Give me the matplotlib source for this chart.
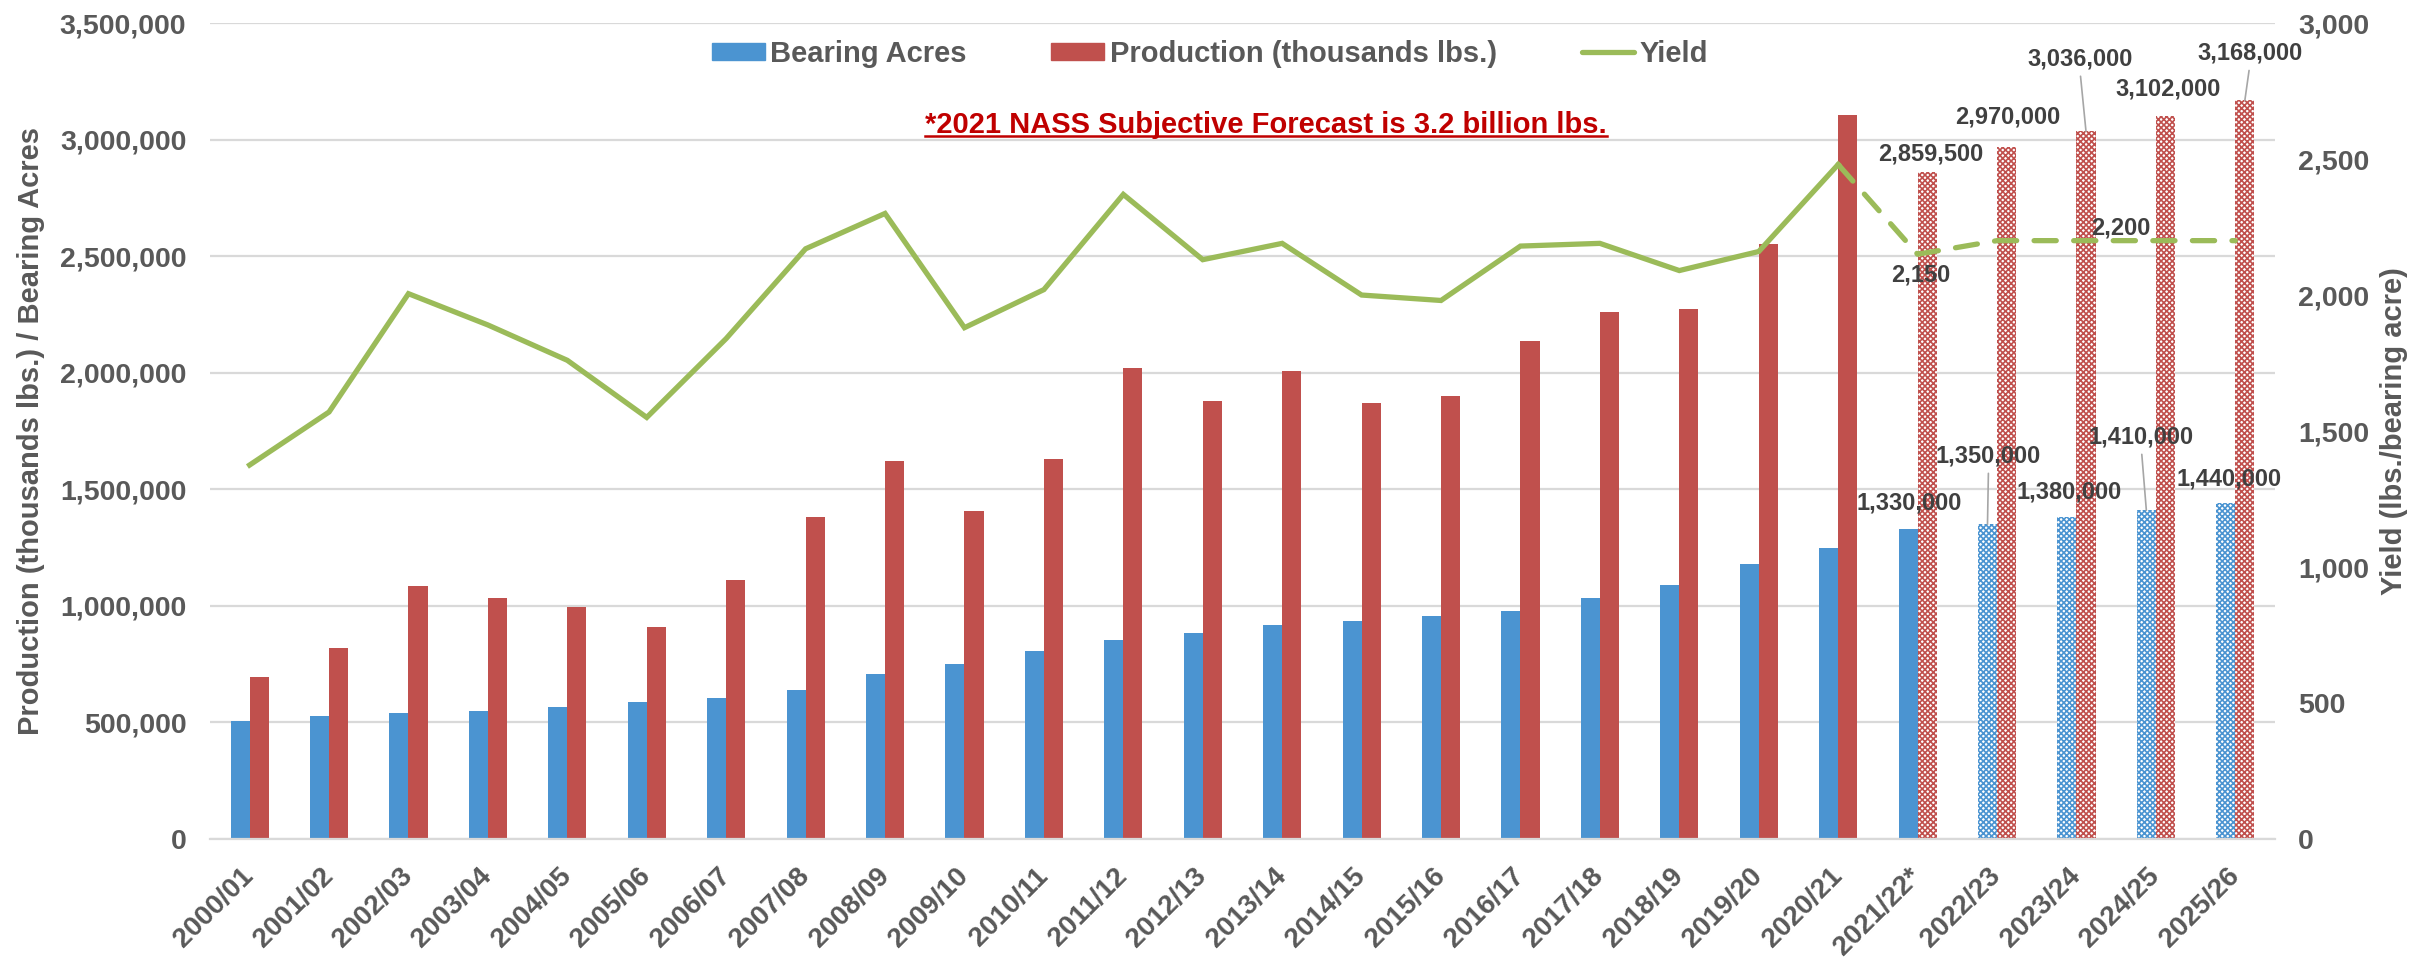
import numpy as np
import matplotlib
matplotlib.use('Agg')
import matplotlib.pyplot as plt
from matplotlib.patches import Patch
from matplotlib.lines import Line2D
from matplotlib.ticker import FuncFormatter

#------ Datos -------
years = ['2000/01', '2001/02', '2002/03', '2003/04', '2004/05', '2005/06', '2006/07',
         '2007/08', '2008/09', '2009/10', '2010/11', '2011/12', '2012/13', '2013/14',
         '2014/15', '2015/16', '2016/17', '2017/18', '2018/19', '2019/20', '2020/21',
         '2021/22*', '2022/23', '2023/24', '2024/25', '2025/26']

bearing_acres = [507000, 529000, 541000, 549000, 567000, 589000, 607000, 639000, 709000,
                 749000, 807000, 855000, 885000, 920000, 935000, 958000, 980000, 1035000,
                 1090000, 1180000, 1250000,
                 1330000, 1350000, 1380000, 1410000, 1440000]

production = [696000, 821000, 1085000, 1033000, 996000, 910000, 1113000, 1383000, 1620000,
              1405000, 1630000, 2020000, 1880000, 2008000, 1870000, 1900000, 2135000,
              2260000, 2272000, 2553000, 3105000,
              2859500, 2970000, 3036000, 3102000, 3168000]

yield_lbs = [1375, 1570, 2005, 1890, 1760, 1550, 1840, 2170, 2300, 1880, 2020, 2370, 2130,
             2190, 2000, 1980, 2180, 2190, 2090, 2160, 2480,
             2150, 2200, 2200, 2200, 2200]

n_acres_real = 22      # hasta 2021/22 la superficie es real
n_prod_real = 21       # hasta 2020/21 la produccion es real
n_yield_real = 21

# etiquetas de datos (indice) y su desplazamiento en pixeles
prod_labels = [21, 22, 23, 24, 25]
prod_offs = [(4, 18), (1, 30), (-6, 72), (3, 27), (5, 47)]
prod_leader = [False, False, True, False, True]
acres_labels = [21, 22, 23, 24, 25]
acres_offs = [(1, 26), (1, 68), (2, 25), (-5, 73), (3, 24)]
acres_leader = [False, True, False, True, False]
yield_labels = [21, 23]
yield_offs = [(3, -21), (44, 13)]

#------ Estilo -------
plt.rcParams['font.family'] = ['Liberation Sans', 'DejaVu Sans']
plt.rcParams['hatch.linewidth'] = 1.2
c_blue = '#4B94D1'
c_red = '#C0504D'
c_green = '#9BBB59'
c_txt = '#595959'
c_lab = '#404040'
c_grid = '#D9D9D9'

fig = plt.figure(figsize=(24.35, 9.6), dpi=100)
ax = fig.add_axes([0.0862, 0.126, 0.8481, 0.850])
ax2 = ax.twinx()

x = np.arange(len(years))
w = 0.24
acres = np.array(bearing_acres)
prod = np.array(production)
yld = np.array(yield_lbs)

ax.bar(x[:n_acres_real] - w / 2, acres[:n_acres_real], w, color=c_blue, zorder=2)
ax.bar(x[n_acres_real:] - w / 2, acres[n_acres_real:], w, color='white',
       edgecolor=c_blue, hatch='xxxxxx', linewidth=0, zorder=2)
ax.bar(x[:n_prod_real] + w / 2, prod[:n_prod_real], w, color=c_red, zorder=2)
ax.bar(x[n_prod_real:] + w / 2, prod[n_prod_real:], w, color='white',
       edgecolor=c_red, hatch='xxxxxx', linewidth=0, zorder=2)

ax2.plot(x[:n_yield_real], yld[:n_yield_real], color=c_green, lw=3.8,
         solid_joinstyle='miter', zorder=3)
ax2.plot(x[n_yield_real - 1:], yld[n_yield_real - 1:], color=c_green, lw=3.8,
         ls=(0, (4.2, 3.3)), dash_capstyle='round', zorder=3)

#------ Ejes -------
ax.set_xlim(-0.5, len(years) - 0.5)
ax.set_ylim(0, 3500000)
ax.set_yticks(np.arange(0, 3500001, 500000))
ax2.set_ylim(0, 3000)
ax2.set_yticks(np.arange(0, 3001, 500))
fmt = FuncFormatter(lambda v, p: f'{v:,.0f}')
ax.yaxis.set_major_formatter(fmt)
ax2.yaxis.set_major_formatter(fmt)

ax.yaxis.grid(True, color=c_grid, lw=1.6)
ax.set_axisbelow(True)
for a in (ax, ax2):
    for s in ['top', 'left', 'right', 'bottom']:
        a.spines[s].set_visible(False)
ax.spines['bottom'].set_visible(True)
ax.spines['bottom'].set_color(c_grid)
ax.spines['bottom'].set_linewidth(1.6)

ax.tick_params(axis='y', length=0, pad=17, labelsize=20.5, labelcolor=c_txt)
ax2.tick_params(axis='y', length=0, pad=16.5, labelsize=20.5, labelcolor=c_txt)
ax.tick_params(axis='x', length=0, pad=24, labelsize=20, labelcolor=c_txt)
for lb in ax.get_yticklabels() + ax2.get_yticklabels():
    lb.set_fontweight('bold')

ax.set_xticks(x)
ax.set_xticklabels(years, rotation=45, ha='right', va='center',
                   rotation_mode='anchor', fontweight='bold')

ax.set_ylabel('Production (thousands lbs.) / Bearing Acres', fontsize=21,
              fontweight='bold', color=c_txt)
ax.yaxis.set_label_coords(-0.080, 0.5)
ax2.set_ylabel('Yield (lbs./bearing acre)', fontsize=21, fontweight='bold',
               color=c_txt, rotation=90)
ax2.yaxis.set_label_coords(1.051, 0.5)

#------ Etiquetas de datos -------
def etiqueta(axe, xx, yy, txt, off, leader):
    kw = dict(xy=(xx, yy), xytext=(off[0] * 0.72, off[1] * 0.72),
              textcoords='offset points', ha='center', va='center',
              fontsize=17, fontweight='bold', color=c_lab, zorder=5)
    if leader:
        kw['arrowprops'] = dict(arrowstyle='-', color='#A6A6A6', lw=1.2,
                                shrinkA=2, shrinkB=0, relpos=(0.5, 0.0))
    axe.annotate(txt, **kw)

for i, o, l in zip(prod_labels, prod_offs, prod_leader):
    etiqueta(ax, x[i] + w / 2, prod[i], f'{prod[i]:,}', o, l)
for i, o, l in zip(acres_labels, acres_offs, acres_leader):
    etiqueta(ax, x[i] - w / 2, acres[i], f'{acres[i]:,}', o, l)
for i, o in zip(yield_labels, yield_offs):
    etiqueta(ax2, x[i], yld[i], f'{yld[i]:,}', o, False)

#------ Leyenda -------
handles = [Patch(color=c_blue), Patch(color=c_red),
           Line2D([0], [0], color=c_green, lw=3.8, solid_capstyle='round')]
leg = ax.legend(handles, ['Bearing Acres', 'Production (thousands lbs.)', 'Yield'],
                loc='center', bbox_to_anchor=(0.497, 0.944), bbox_transform=fig.transFigure,
                ncol=3, frameon=False, labelcolor=c_txt,
                prop={'size': 21, 'weight': 'bold'},
                handlelength=1.8, handleheight=0.5, handletextpad=0.2, columnspacing=2.9)

#------ Nota en rojo subrayada -------
nota = fig.text(0.52, 0.870, '*2021 NASS Subjective Forecast is 3.2 billion lbs.',
                ha='center', va='center', fontsize=21, fontweight='bold', color='#C00000')
fig.canvas.draw()
bb = nota.get_window_extent(fig.canvas.get_renderer())
fw, fh = fig.bbox.width, fig.bbox.height
fig.add_artist(Line2D([bb.x0 / fw, bb.x1 / fw], [(bb.y0 + 3) / fh] * 2,
                      color='#C00000', lw=1.8))

fig.savefig('out.png', dpi=100)
